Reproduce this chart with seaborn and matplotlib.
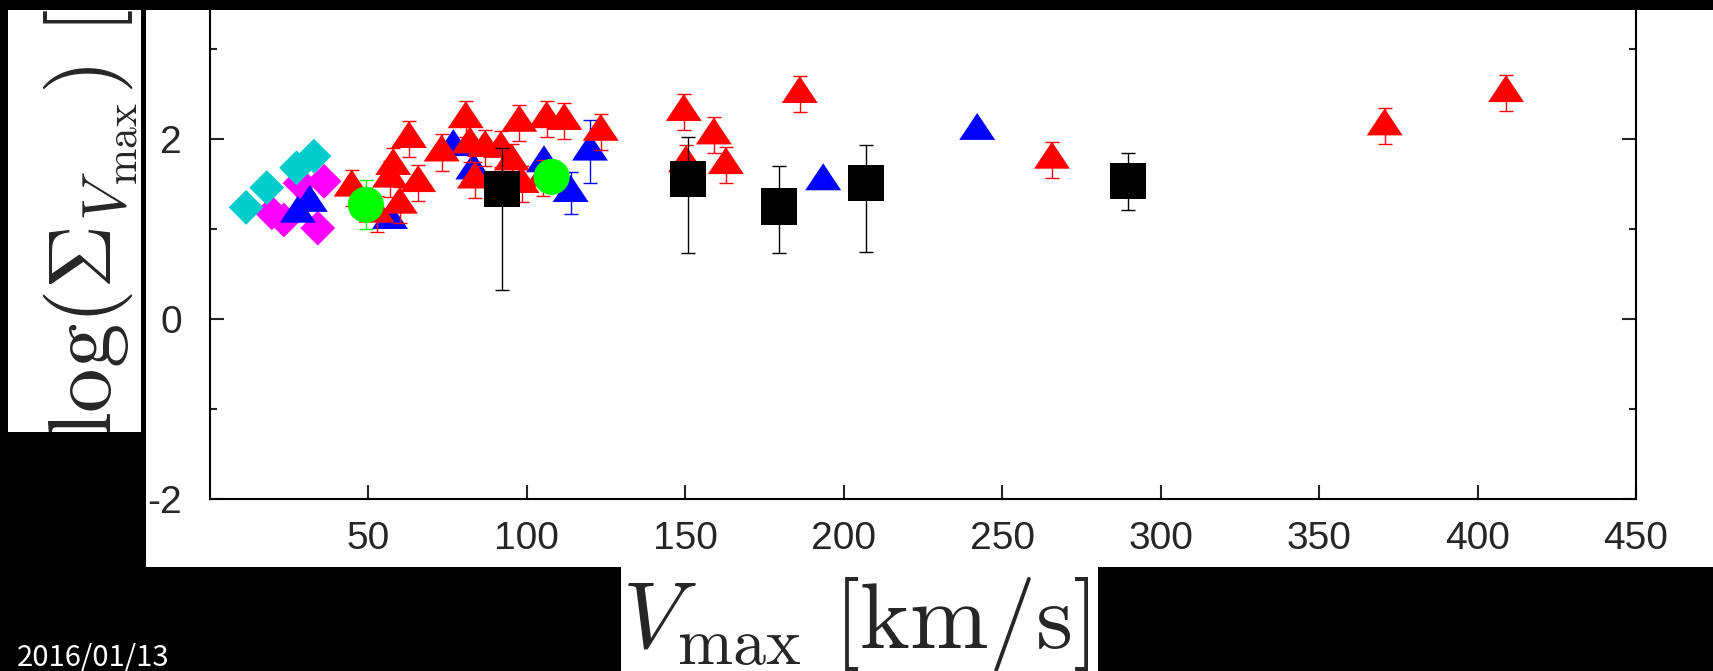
import numpy as np
import pandas as pd
import matplotlib
matplotlib.use('Agg')
import matplotlib.pyplot as plt
from matplotlib.patches import Rectangle
import seaborn as sns

# data
# red triangles (errors +-0.2)
red_x = [44.7, 62.8, 57.8, 56.8, 65.7, 59.9, 52.6, 73.1, 80.7, 82.0, 86.8, 91.8, 83.6, 97.6,
         106.2, 111.8, 123.3, 95.2, 98.3, 105.2, 149.5, 159.0, 162.8, 150.2, 186.1, 265.7,
         370.7, 409.0]
red_y = [1.46, 2.00, 1.70, 1.56, 1.51, 1.27, 1.17, 1.85, 2.22, 1.94, 1.90, 1.89, 1.55, 2.18,
         2.22, 2.20, 2.08, 1.75, 1.50, 1.57, 2.30, 2.04, 1.71, 1.73, 2.50, 1.77,
         2.14, 2.51]
red_err = [0.2] * len(red_x)

# blue triangles
blue_x = [27.7, 31.5, 56.8, 76.8, 83.1, 105.4, 113.8, 119.9, 193.5, 242.1]
blue_y = [1.17, 1.29, 1.10, 1.91, 1.65, 1.73, 1.40, 1.86, 1.53, 2.09]
blue_err = [0.0, 0.0, 0.0, 0.0, 0.0, 0.0, 0.23, 0.35, 0.0, 0.03]

# cyan and magenta diamonds
cyan_x = [11.4, 17.9, 27.3, 32.8]
cyan_y = [1.24, 1.46, 1.68, 1.81]
magenta_x = [19.5, 23.3, 28.4, 36.0, 34.0]
magenta_y = [1.18, 1.10, 1.51, 1.53, 1.01]

# green circles
green_x = [49.2, 107.8]
green_y = [1.27, 1.58]
green_err = [0.27, 0.0]

# black squares (asymmetric errors)
black_x = [92.2, 150.9, 179.6, 207.1, 289.7]
black_y = [1.44, 1.56, 1.25, 1.51, 1.53]
black_lo = [1.12, 0.83, 0.52, 0.77, 0.32]
black_hi = [0.46, 0.46, 0.45, 0.42, 0.32]

x_ticks = [50, 100, 150, 200, 250, 300, 350, 400, 450]
y_ticks = [-2, 0, 2, 4]
y_minor = [-1, 1, 3]

sns.set_style('ticks')
plt.rcParams['font.family'] = ['Liberation Sans', 'DejaVu Sans']
plt.rcParams['mathtext.fontset'] = 'cm'
plt.rcParams['axes.unicode_minus'] = False

W, H = 1713, 671
fig = plt.figure(figsize=(W / 100, H / 100), dpi=100, facecolor='black')


def frac_rect(x0, y0, x1, y1, **kw):
    # pixel box (y from top) -> figure fraction rectangle
    return Rectangle((x0 / W, 1 - y1 / H), (x1 - x0) / W, (y1 - y0) / H,
                     transform=fig.transFigure, **kw)


# white panels of the slide
ybox = frac_rect(8, 10, 141, 432, facecolor='white', edgecolor='none', zorder=-5)
pbox = frac_rect(146, 10, W, 567, facecolor='white', edgecolor='none', zorder=-5)
xbox = frac_rect(621, 567, 1098, H, facecolor='white', edgecolor='none', zorder=-5)
for p in (ybox, pbox, xbox):
    fig.add_artist(p)

ax = fig.add_axes([210 / W, 1 - 499 / H, 1426 / W, 540 / H])
ax.set_facecolor('white')

tri = [(0, 1), (-1, -0.5), (1, -0.5)]
dia = [(0, 1), (1, 0), (0, -1), (-1, 0)]

# error bars
ax.errorbar(blue_x, blue_y, yerr=blue_err, fmt='none', ecolor='blue', elinewidth=1,
            capsize=5, capthick=1, zorder=2)
ax.errorbar(red_x, red_y, yerr=red_err, fmt='none', ecolor='red', elinewidth=1,
            capsize=5, capthick=1, zorder=3)
ax.errorbar(green_x, green_y, yerr=green_err, fmt='none', ecolor='#00ff00', elinewidth=1,
            capsize=5, capthick=1, zorder=3.5)
ax.errorbar(black_x, black_y, yerr=[black_lo, black_hi], fmt='none', ecolor='black',
            elinewidth=1, capsize=5, capthick=1, zorder=4)

groups = [
    (magenta_x, magenta_y, '#ff00ff', dia, 630, 1),
    (cyan_x, cyan_y, '#00cccc', dia, 630, 1.5),
    (blue_x, blue_y, '#0000ff', tri, 670, 2),
    (red_x, red_y, '#ff0000', tri, 670, 3),
    (green_x, green_y, '#00ff00', 'o', 676, 3.5),
    (black_x, black_y, '#000000', 's', 676, 4),
]
for gx, gy, col, mk, size, z in groups:
    df = pd.DataFrame({'x': gx, 'y': gy})
    sns.scatterplot(data=df, x='x', y='y', color=col, marker=mk, s=size,
                    linewidth=0, edgecolor='none', zorder=z, ax=ax, legend=False)

ax.set_xlim(0, 450)
ax.set_ylim(-2, 4)
ax.set_xticks(x_ticks)
ax.set_yticks(y_ticks)
ax.set_yticks(y_minor, minor=True)
ax.set_xlabel('')
ax.set_ylabel('')
ax.tick_params(axis='both', which='major', direction='in', length=10, width=1.5,
               labelsize=28, top=True, right=True)
ax.tick_params(axis='y', which='minor', direction='in', length=5, width=1.5, right=True)
ax.tick_params(axis='x', pad=16)
ax.tick_params(axis='y', pad=20)
for s in ax.spines.values():
    s.set_linewidth(1.5)
    s.set_color('black')

# axis titles on the slide panels
yl = fig.text(112 / W, 1 - 437 / H, r'$\log(\Sigma_{V_{\mathrm{max}}})\ [\mathrm{M_{\odot}/pc^{2}}]$',
              fontsize=64, rotation=90, rotation_mode='anchor', ha='left', va='baseline')
yl.set_clip_path(frac_rect(8, 10, 141, 432, facecolor='none'))
xl = fig.text(622 / W, 1 - 648 / H, r'$V_{\mathrm{max}}\ [\mathrm{km/s}]$',
              fontsize=68, ha='left', va='baseline')
xl.set_clip_path(frac_rect(621, 567, 1098, H, facecolor='none'))

fig.text(17 / W, 1 - 666 / H, '2016/01/13', color='white', fontsize=21,
         family=['Noto Sans CJK JP', 'DejaVu Sans'], ha='left', va='baseline')

# black bar over the top of the slide
fig.add_artist(frac_rect(0, 0, W, 10, facecolor='black', edgecolor='none', zorder=20))

fig.savefig('out.png', dpi=100, facecolor='black')
